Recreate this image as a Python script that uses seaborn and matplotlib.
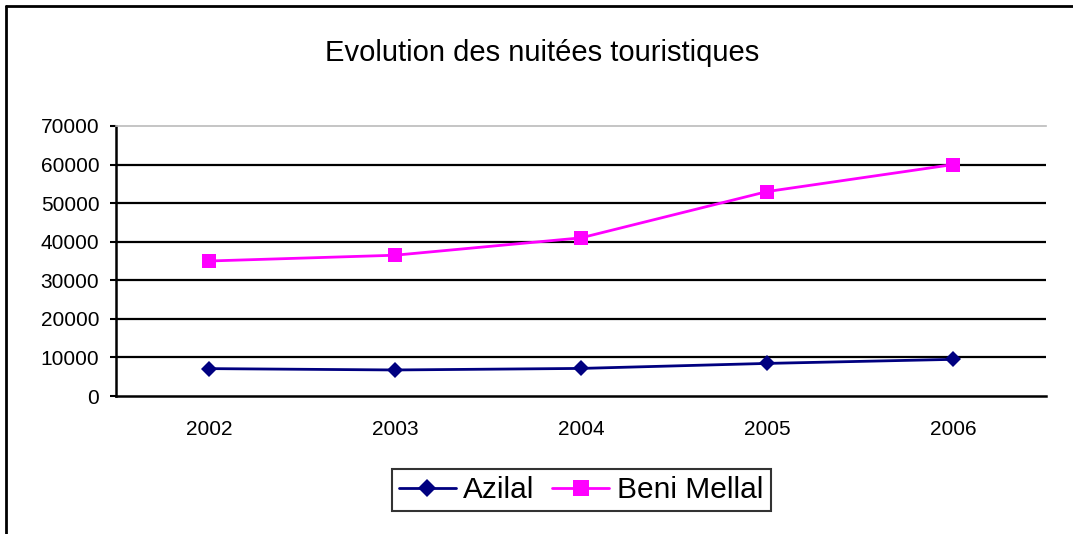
import numpy as np
import pandas as pd
import matplotlib
matplotlib.use("Agg")
import matplotlib.pyplot as plt
from matplotlib.lines import Line2D
import seaborn as sns

# valeurs
years = ["2002", "2003", "2004", "2005", "2006"]
azilal = [7100, 6750, 7150, 8450, 9500]
beni_mellal = [35000, 36500, 41000, 53000, 60000]
y_ticks = [0, 10000, 20000, 30000, 40000, 50000, 60000, 70000]

df = pd.DataFrame({
    "pos": list(range(len(years))) * 2,
    "year": years * 2,
    "nuitees": azilal + beni_mellal,
    "serie": ["Azilal"] * len(years) + ["Beni Mellal"] * len(years),
})

sns.set_theme(style="white")
plt.rcParams["font.family"] = ["Liberation Sans", "DejaVu Sans"]
plt.rcParams["text.color"] = "black"

fig = plt.figure(figsize=(10.73, 5.34), dpi=100, facecolor="white")
ax = fig.add_axes([116 / 1073, 138 / 534, (1046 - 116) / 1073, 270 / 534])

palette = {"Azilal": "#000080", "Beni Mellal": "#FF00FF"}
markers = {"Azilal": "D", "Beni Mellal": "s"}
sns.lineplot(data=df, x="pos", y="nuitees", hue="serie", style="serie",
             palette=palette, markers=markers, dashes=False, linewidth=2,
             markersize=10.5, markeredgewidth=0, ax=ax, legend=False)

# losanges un peu plus petits que les carrés
for line in ax.get_lines():
    if line.get_marker() == "D":
        line.set_markersize(8.5)

ax.set_xlim(-0.5, len(years) - 0.5)
ax.set_ylim(0, 70000)
ax.set_yticks(y_ticks)
ax.set_yticklabels([str(v) for v in y_ticks], fontsize=15)
ax.set_xticks(range(len(years)))
ax.set_xticklabels(years, fontsize=15)
ax.set_xticks(np.arange(-0.5, len(years)), minor=True)
ax.tick_params(axis="x", which="major", length=0, pad=17, colors="black")
ax.tick_params(axis="x", which="minor", length=5, width=1.5, direction="out", color="black")
ax.tick_params(axis="y", length=4, width=1.5, direction="out", pad=8, colors="black", left=True)
ax.set_xlabel("")
ax.set_ylabel("")

for v in y_ticks[1:-1]:
    ax.axhline(v, color="black", linewidth=1.6, zorder=0)

for side in ["left", "bottom"]:
    ax.spines[side].set_color("black")
    ax.spines[side].set_linewidth(1.8)
ax.spines["top"].set_color("#BBBBBB")
ax.spines["top"].set_linewidth(1.2)
ax.spines["right"].set_visible(False)

fig.text(542 / 1073, 1 - 53 / 534, "Evolution des nuitées touristiques",
         ha="center", va="center", fontsize=21, color="black")

handles = [Line2D([], [], color=palette[s], marker=markers[s], linewidth=2,
                  markersize=11 if s == "Beni Mellal" else 9, markeredgewidth=0)
           for s in ["Azilal", "Beni Mellal"]]
leg = fig.legend(handles, ["Azilal", "Beni Mellal"], loc="center",
                 bbox_to_anchor=(581 / 1073, 1 - 490 / 534), ncol=2,
                 fontsize=21.5, frameon=True, fancybox=False, handlelength=1.9,
                 handletextpad=0.25, columnspacing=0.6, borderpad=0.25)
leg.get_frame().set_edgecolor("black")
leg.get_frame().set_linewidth(1.5)
for t in leg.get_texts():
    t.set_color("black")

# cadre du graphique (bords gauche et haut visibles)
fig.add_artist(Line2D([6 / 1073, 6 / 1073], [0, 1 - 6 / 534], transform=fig.transFigure,
                      color="black", linewidth=2))
fig.add_artist(Line2D([6 / 1073, 1], [1 - 6 / 534, 1 - 6 / 534], transform=fig.transFigure,
                      color="black", linewidth=2))

plt.savefig("out.png", dpi=100, facecolor="white")
plt.close()
